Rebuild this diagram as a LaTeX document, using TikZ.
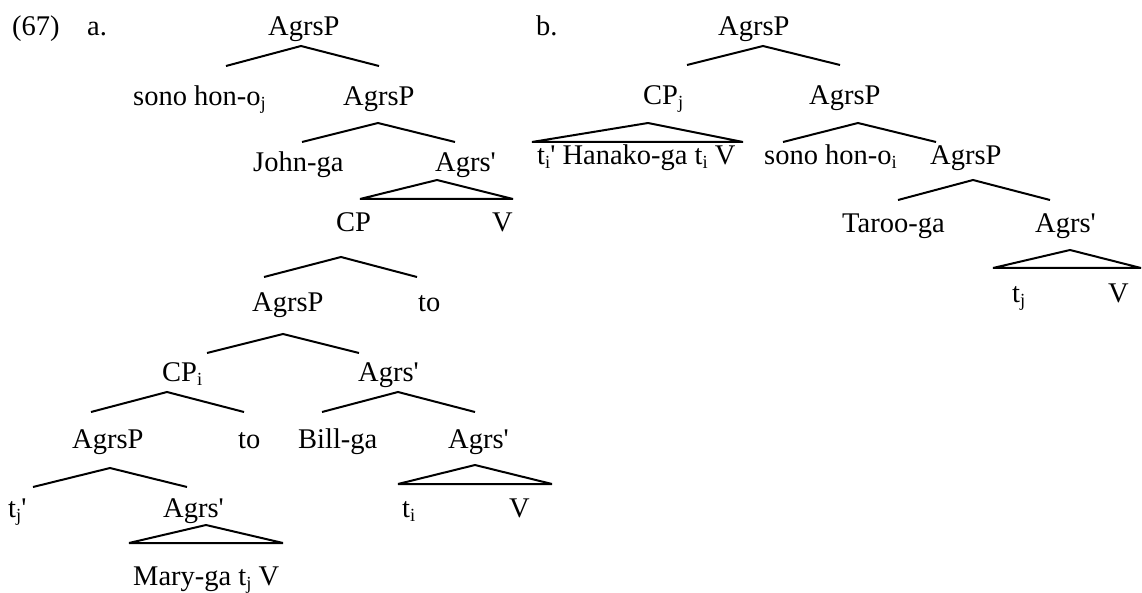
\documentclass[tikz,border=0pt]{standalone}
\usepackage{fontspec}
\newfontfamily\treefont{Liberation Serif}
% lowered index letter (j, i) after a word
\newcommand\lowsub[1]{\raisebox{-4pt}{\fontsize{18.5}{18.5}\selectfont #1}}
% a branching point: name, apex, left end, right end
\newcommand\treefork[4]{%
  \coordinate (#1t) at #2; \coordinate (#1l) at #3; \coordinate (#1r) at #4;
  \draw[br] (#1l) -- (#1t) -- (#1r);}
% a roof (triangle) over a constituent: name, apex, left base end, right base end
\newcommand\treeroof[4]{%
  \coordinate (#1t) at #2; \coordinate (#1l) at #3; \coordinate (#1r) at #4;
  \draw[br, line join=bevel] (#1l) -- (#1t) -- (#1r) -- cycle;}
\begin{document}
\begin{tikzpicture}[x=1pt,y=-1pt,
  lbl/.style={inner sep=0pt, anchor=base west, font=\treefont\fontsize{28.5}{32}\selectfont},
  br/.style={line width=2pt, line join=miter}]
\useasboundingbox (0,0) rectangle (1142,593);

% ---------- example number and tree (a) ----------
\node[lbl] (num) at (12,36) {(67)};
\node[lbl] (la) at (87,36) {a.};

\node[lbl] (aRoot) at (268,36) {AgrsP};
\node[lbl] (aSono) at (133,106) {sono hon-o\lowsub{j}};
\node[lbl] (aP2) at (343,106) {AgrsP};
\node[lbl] (aJohn) at (253,172) {John-ga};
\node[lbl] (aA1) at (435,172) {Agrs'};
\node[lbl] (aCP) at (336,232) {CP};
\node[lbl] (aV1) at (492,232) {V};
\node[lbl] (aP3) at (252,312) {AgrsP};
\node[lbl] (aTo1) at (418,312) {to};
\node[lbl] (aCPi) at (162,381) {CP\lowsub{i}};
\node[lbl] (aA2) at (358,381) {Agrs'};
\node[lbl] (aP4) at (72,448) {AgrsP};
\node[lbl] (aTo2) at (238,448) {to};
\node[lbl] (aBill) at (298,448) {Bill-ga};
\node[lbl] (aA3) at (448,448) {Agrs'};
\node[lbl] (atj) at (8,517) {t\lowsub{j}'};
\node[lbl] (aA4) at (163,517) {Agrs'};
\node[lbl] (ati) at (402,517) {t\lowsub{i}};
\node[lbl] (aV2) at (509,517) {V};
\node[lbl] (aMary) at (133,585) {Mary-ga t\lowsub{j} V};

\treefork{aRoot}{(301,46)}{(226,66)}{(379,66)}
\treefork{aP2}{(378,123)}{(302,142)}{(455,142)}
\treeroof{aA1}{(437,180)}{(360,199)}{(513,199)}
\treefork{aCP}{(341,257)}{(264,277)}{(417,277)}
\treefork{aP3}{(283,334)}{(207,353)}{(359,353)}
\treefork{aCPi}{(167,392)}{(91,412)}{(244,412)}
\treefork{aA2}{(398,392)}{(322,412)}{(475,412)}
\treefork{aP4}{(110,468)}{(33,487)}{(187,487)}
\treeroof{aA3}{(475,465)}{(398,484)}{(552,484)}
\treeroof{aA4}{(206,525)}{(129,543)}{(283,543)}

% ---------- tree (b) ----------
\node[lbl] (lb) at (536,36) {b.};
\node[lbl] (bRoot) at (718,36) {AgrsP};
\node[lbl] (bCPj) at (643,105) {CP\lowsub{j}};
\node[lbl] (bP2) at (809,105) {AgrsP};
\node[lbl] (bHan) at (537,165) {t\lowsub{i}' Hanako-ga t\lowsub{i} V};
\node[lbl] (bSono) at (764,165) {sono hon-o\lowsub{i}};
\node[lbl] (bP3) at (930,165) {AgrsP};
\node[lbl] (bTaroo) at (842,233) {Taroo-ga};
\node[lbl] (bA) at (1035,233) {Agrs'};
\node[lbl] (btj) at (1012,302) {t\lowsub{j}};
\node[lbl] (bV) at (1108,302) {V};

\treefork{bRoot}{(763,46)}{(687,65)}{(840,65)}
\treeroof{bCPj}{(648,123)}{(532,142)}{(743,142)}
\treefork{bP2}{(858,123)}{(783,142)}{(936,142)}
\treefork{bP3}{(973,180)}{(898,200)}{(1050,200)}
\treeroof{bA}{(1070,250)}{(993,268)}{(1141,268)}
\end{tikzpicture}
\end{document}
